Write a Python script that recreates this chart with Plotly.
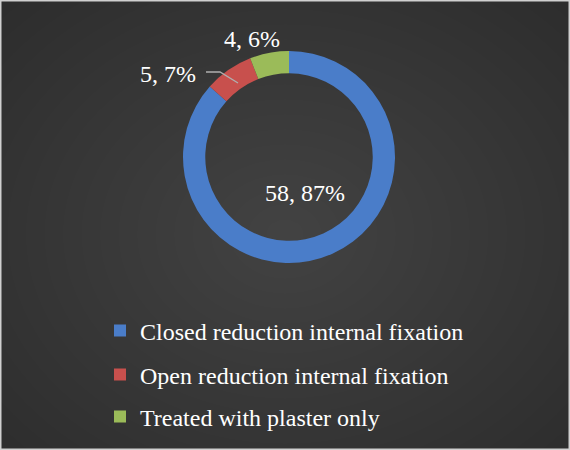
import plotly.graph_objects as go

categories = ["Closed reduction internal fixation", "Open reduction internal fixation", "Treated with plaster only"]
values = [58, 5, 4]
colors = ["#4a7dc9", "#c8504d", "#9bbb59"]

total = sum(values)
pcts = [round(v * 100 / total) for v in values]
labels_txt = [f"{v}, {p}%" for v, p in zip(values, pcts)]

W, H = 570, 450
FONT = "Liberation Serif, Times New Roman, serif"
FS = 24

fig = go.Figure()

cx, cy, r = 289, 157, 106
fig.add_trace(go.Pie(
    labels=categories, values=values, hole=0.79, sort=False, direction="clockwise",
    rotation=0, marker=dict(colors=colors, line=dict(width=0)),
    textinfo="none", showlegend=False,
    domain=dict(x=[(cx - r) / W, (cx + r) / W], y=[1 - (cy + r) / H, 1 - (cy - r) / H]),
))

# legend entries (one per legend for spacing control)
leg_y = [331, 375, 417]
for i, (c, col) in enumerate(zip(categories, colors)):
    lname = "legend" if i == 0 else f"legend{i+1}"
    fig.add_trace(go.Scatter(
        x=[None], y=[None], mode="markers", name=c,
        marker=dict(symbol="square", size=13, color=col),
        showlegend=True, legend=lname,
    ))

legend_common = dict(font=dict(family=FONT, size=FS, color="white"), bgcolor="rgba(0,0,0,0)",
                     xanchor="left", yanchor="middle", itemsizing="constant")
layout_legends = {}
for i, y in enumerate(leg_y):
    lname = "legend" if i == 0 else f"legend{i+1}"
    layout_legends[lname] = dict(legend_common, x=100 / W, y=1 - y / H)

# background radial gradient
shapes = []
N = 24
for i in range(N):
    f = 1 - i / N
    rx, ry = 0.78 * f, 0.8 * f
    shapes.append(dict(type="circle", xref="paper", yref="paper", layer="below",
                       x0=0.5 - rx, x1=0.5 + rx, y0=0.48 - ry, y1=0.48 + ry,
                       fillcolor="rgba(255,255,255,0.0085)", line=dict(width=0)))
# border
shapes.append(dict(type="rect", xref="paper", yref="paper", x0=0, x1=1, y0=0, y1=1,
                   line=dict(color="#d0d0d0", width=3), layer="above"))
# leader line for small slice
shapes.append(dict(type="path", xref="paper", yref="paper",
                   path=f"M {206/W},{1-72/H} L {220/W},{1-72/H} L {238/W},{1-83/H}",
                   line=dict(color="#b0b0b0", width=1.3)))

annotations = [
    dict(text=labels_txt[0], x=305 / W, y=1 - 193 / H),
    dict(text=labels_txt[1], x=168 / W, y=1 - 74 / H),
    dict(text=labels_txt[2], x=252 / W, y=1 - 39 / H),
]
for a in annotations:
    a.update(xref="paper", yref="paper", showarrow=False, xanchor="center", yanchor="middle",
             font=dict(family=FONT, size=FS, color="white"))

fig.update_layout(
    width=W, height=H, margin=dict(l=0, r=0, t=0, b=0),
    paper_bgcolor="#2a2a2a", plot_bgcolor="rgba(0,0,0,0)",
    xaxis=dict(visible=False), yaxis=dict(visible=False),
    shapes=shapes, annotations=annotations, **layout_legends,
)

fig.write_html("out.html")
